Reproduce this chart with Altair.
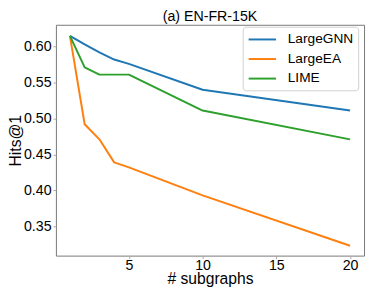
import altair as alt
import pandas as pd

methods = ["LargeGNN", "LargeEA", "LIME"]
colors = ["#1f77b4", "#ff7f0e", "#2ca02c"]

x_gnn = [1, 2, 3, 4, 5, 10, 20]
y_gnn = [0.615, 0.603, 0.592, 0.582, 0.576, 0.540, 0.511]

x_ea = [1, 2, 3, 4, 5, 10, 20]
y_ea = [0.615, 0.492, 0.471, 0.439, 0.432, 0.393, 0.323]

x_lime = [1, 2, 3, 4, 5, 10, 20]
y_lime = [0.615, 0.571, 0.561, 0.561, 0.561, 0.511, 0.471]

x_ticks = [5, 10, 15, 20]
y_ticks = [0.35, 0.40, 0.45, 0.50, 0.55, 0.60]

chart_title = "(a) EN-FR-15K"

rows = []
for name, xs, ys in [("LargeGNN", x_gnn, y_gnn), ("LargeEA", x_ea, y_ea), ("LIME", x_lime, y_lime)]:
    for i, (a, b) in enumerate(zip(xs, ys)):
        rows.append({"method": name, "subgraphs": a, "hits": b, "order": i})
df = pd.DataFrame(rows)

FONT = "Liberation Sans"
W, H = 315, 236

lines = alt.Chart(df).mark_line(strokeWidth=2, strokeCap="butt", strokeJoin="round").encode(
    x=alt.X("subgraphs:Q",
            scale=alt.Scale(domain=[0.05, 20.95], nice=False, zero=False),
            axis=alt.Axis(values=x_ticks, title="# subgraphs", format="d",
                          labelPadding=0,
                          titleBaseline="alphabetic", titleY=29)),
    y=alt.Y("hits:Q",
            scale=alt.Scale(domain=[0.3093, 0.6303], nice=False, zero=False),
            axis=alt.Axis(values=y_ticks, title="Hits@1", format=".2f",
                          titleBaseline="alphabetic", titleX=-36, titleAngle=-90)),
    color=alt.Color("method:N", sort=methods,
                    scale=alt.Scale(domain=methods, range=colors),
                    legend=alt.Legend(title=None, orient="none", legendX=191, legendY=2,
                                      symbolType="M-1,0H3", symbolSize=196,
                                      symbolStrokeWidth=2, labelFontSize=14,
                                      labelFont=FONT, labelColor="black",
                                      labelOffset=25, rowPadding=5, padding=5,
                                      fillColor="rgba(255,255,255,0.8)",
                                      strokeColor="#d0d0d0", cornerRadius=3)),
    order="order:Q",
)

title_text = alt.Chart(pd.DataFrame({"t": [chart_title]})).mark_text(
    font=FONT, fontSize=14.5, color="black", baseline="alphabetic", align="center"
).encode(
    text="t:N", x=alt.value(W / 2), y=alt.value(-4)
)

chart = alt.layer(lines, title_text).properties(
    width=W, height=H,
    padding={"left": 49, "top": 14, "right": 2, "bottom": 33},
    autosize=alt.AutoSizeParams(type="none"),
).configure_view(
    stroke="#777777", strokeWidth=1
).configure_axis(
    grid=False, domain=False, tickColor="#aaaaaa", tickSize=3, tickWidth=1,
    labelFont=FONT, labelFontSize=14.5, labelColor="black", labelPadding=2,
    titleFont=FONT, titleFontSize=16, titleFontWeight="normal", titleColor="black",
)

chart.save("out.html", embed_options={"renderer": "svg", "actions": False})
